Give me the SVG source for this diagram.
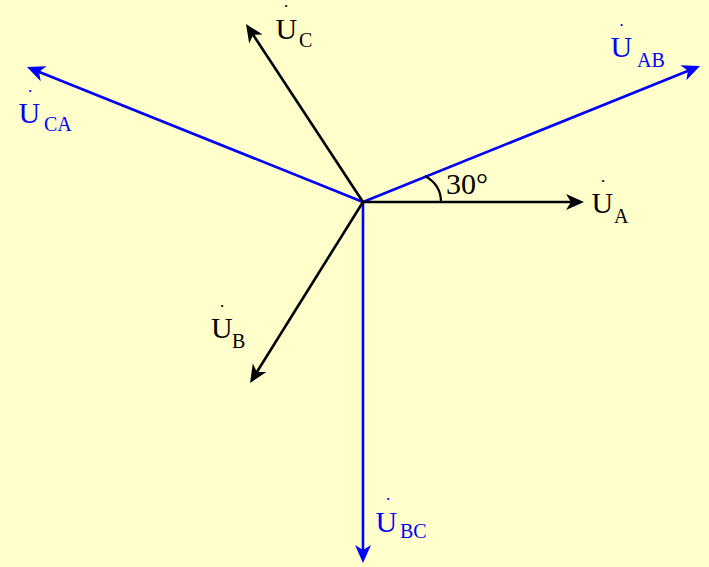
<svg xmlns="http://www.w3.org/2000/svg" width="709" height="567" viewBox="0 0 709 567">
<defs>
<marker id="ahK" markerUnits="userSpaceOnUse" markerWidth="40" markerHeight="40" viewBox="-20 -20 40 40" refX="0" refY="0" orient="auto" overflow="visible">
<path d="M12,0 L-6,-8 L-1,0 L-6,8 Z" fill="#000"/>
</marker>
<marker id="ahB" markerUnits="userSpaceOnUse" markerWidth="40" markerHeight="40" viewBox="-20 -20 40 40" refX="0" refY="0" orient="auto" overflow="visible">
<path d="M12,0 L-6,-8 L-1,0 L-6,8 Z" fill="#0000FF"/>
</marker>
<style>
.k{stroke:#000;stroke-width:2.6;fill:none;marker-end:url(#ahK)}
.b{stroke:#0000FF;stroke-width:2.6;fill:none;marker-end:url(#ahB)}
text{font-family:"Liberation Serif","Times New Roman",serif}
.U{font-size:30px}
.s{font-size:20px}
.d{font-size:9px}
.tk{fill:#000}
.tb{fill:#0000FF}
</style>
</defs>
<rect width="709" height="567" fill="#FFFFCC"/>
<g id="connectors">
<line id="UAB" class="b" x1="363" y1="202" x2="688.9" y2="70.5"/>
<line id="UCA" class="b" x1="363" y1="202" x2="38.1" y2="71.5"/>
<line id="UBC" class="b" x1="363" y1="202" x2="363" y2="551"/>
<line id="UA" class="k" x1="363" y1="202" x2="572" y2="202"/>
<line id="UC" class="k" x1="363" y1="202" x2="252.6" y2="34"/>
<line id="UB" class="k" x1="363" y1="202" x2="256.4" y2="372.8"/>
<path id="angle" d="M425,176 C436,182 441,192 441,202" stroke="#000" stroke-width="2.2" fill="none"/>
</g>
<g id="label-UC">
<text class="tk"><tspan class="d" x="284.4" y="8.9">•</tspan><tspan class="U" x="275.5" y="39">U</tspan><tspan class="s" x="299" y="47">C</tspan></text>
</g>
<g id="label-UA">
<text class="tk"><tspan class="d" x="601.4" y="183.9">•</tspan><tspan class="U" x="591.5" y="213">U</tspan><tspan class="s" x="614" y="223">A</tspan></text>
</g>
<g id="label-UB">
<text class="tk"><tspan class="d" x="220.4" y="309.2">•</tspan><tspan class="U" x="211" y="338">U</tspan><tspan class="s" x="232" y="348">B</tspan></text>
</g>
<g id="label-UAB">
<text class="tb"><tspan class="d" x="620.1" y="27.6">•</tspan><tspan class="U" x="610.5" y="57">U</tspan><tspan class="s" x="637" y="67">AB</tspan></text>
</g>
<g id="label-UCA">
<text class="tb"><tspan class="d" x="28.4" y="93.9">•</tspan><tspan class="U" x="18.5" y="123">U</tspan><tspan class="s" x="44" y="131">CA</tspan></text>
</g>
<g id="label-UBC">
<text class="tb"><tspan class="d" x="386.4" y="501.9">•</tspan><tspan class="U" x="375.5" y="532">U</tspan><tspan class="s" x="400" y="538">BC</tspan></text>
</g>
<g id="label-angle">
<text class="tk" x="446" y="194" style="font-size:30px">30°</text>
</g>
</svg>
